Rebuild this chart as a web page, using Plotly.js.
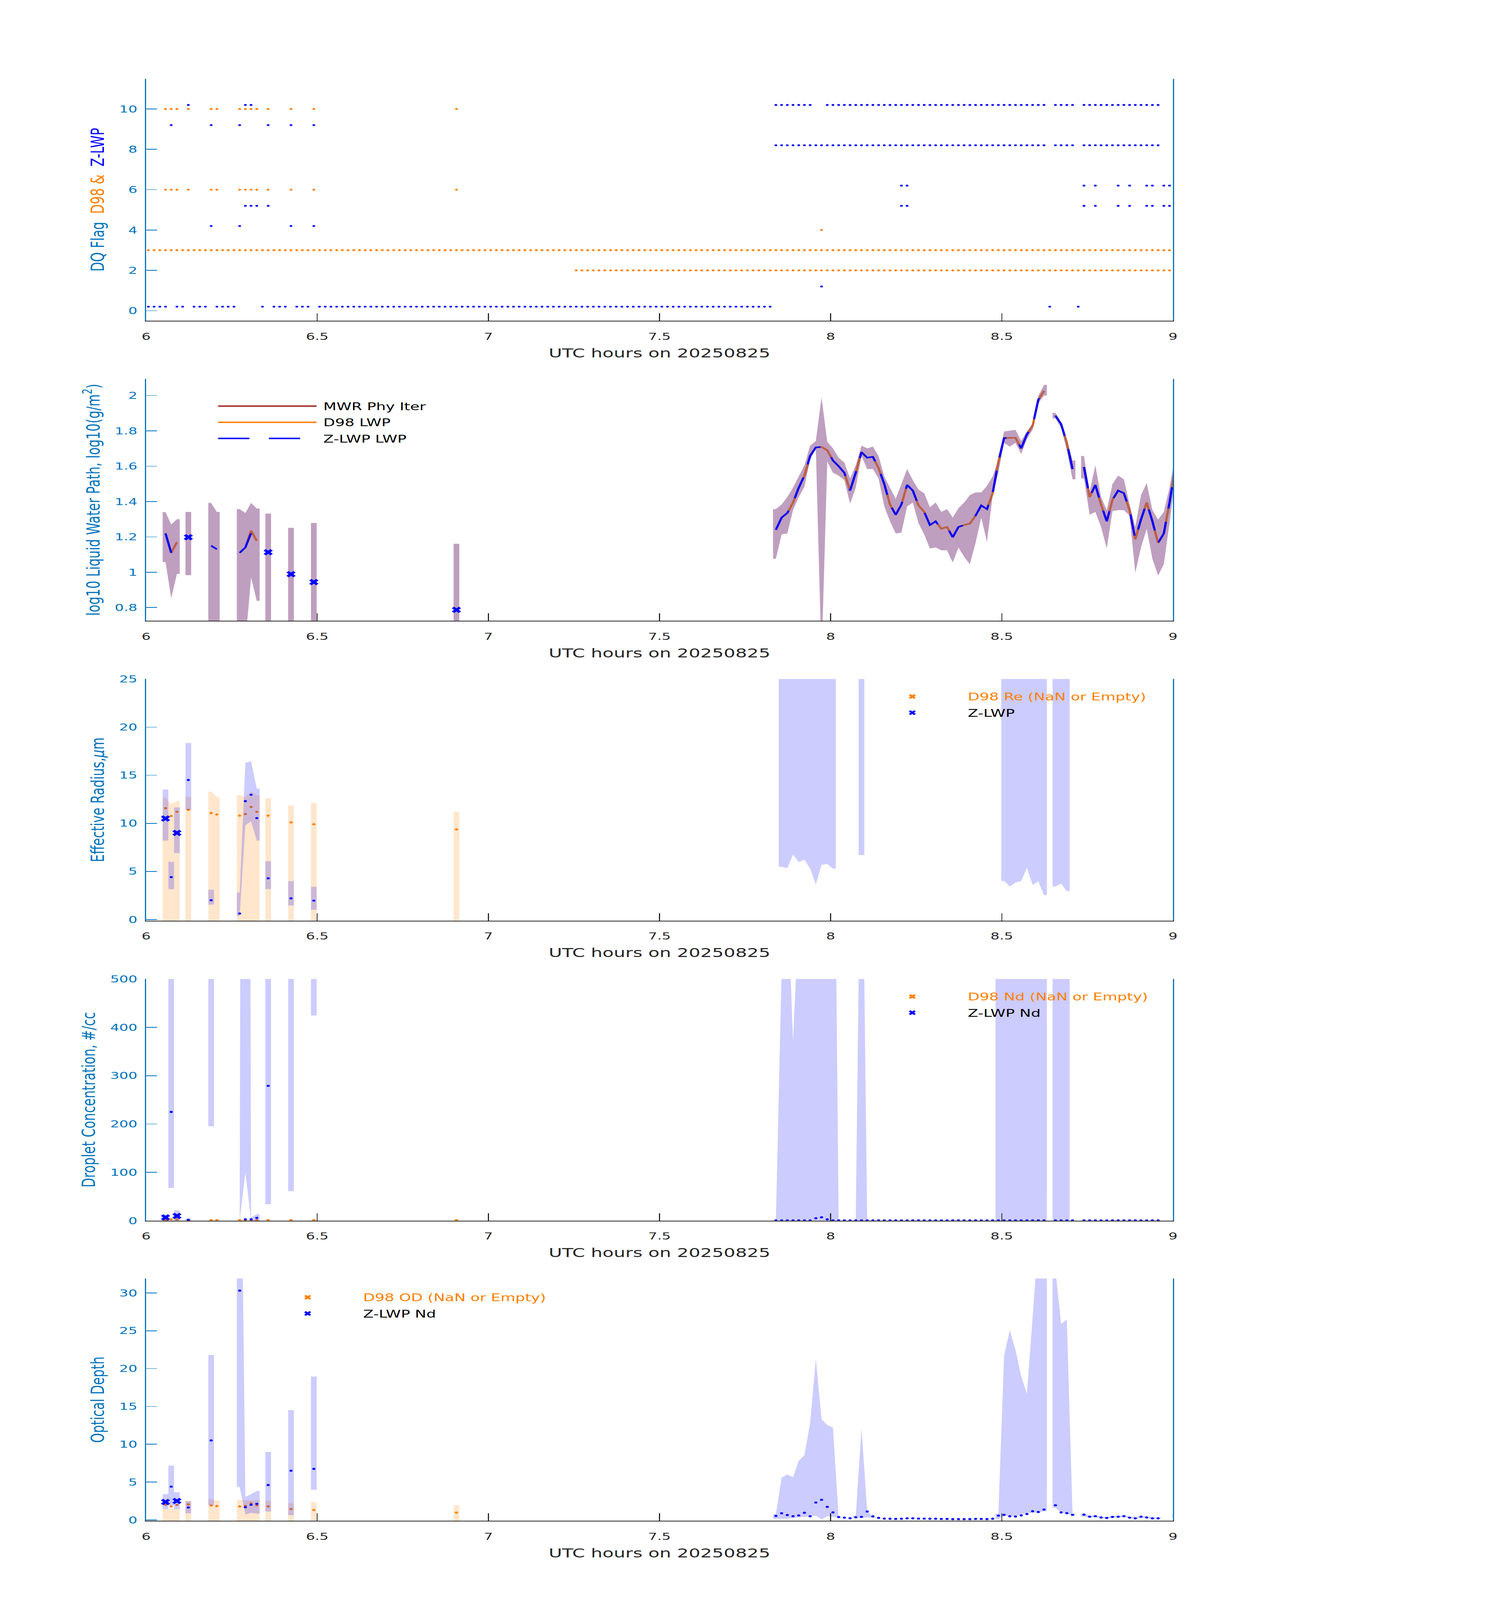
<!DOCTYPE html>
<html>
<head>
<meta charset="utf-8">
<script src="https://cdn.plot.ly/plotly-3.0.1.min.js"></script>
<style>html,body{margin:0;padding:0;background:#fff}</style>
</head>
<body>
<div id="chart" style="width:3825px;height:6000px"></div>
<script>
// ---- time base: one sample per minute after 06:00 UTC ----
const LATE_START = 110;      // first minute of the long block after 7.8 h
const SAMPLE_OFFSET = 0.4;   // samples sit a little into each minute
const HALF_STEP = 0.5;       // shaded boxes reach half a sample either side

// ---- DQ flags (minute ranges [from, to]) ----
const d98Flag10 = [[3, 5], [7, 7], [11, 12], [16, 19], [21, 21], [25, 25], [29, 29], [54, 54]];
const d98Flag6 = [[3, 5], [7, 7], [11, 12], [16, 19], [21, 21], [25, 25], [29, 29], [54, 54]];
const d98Flag4 = [[118, 118]];
const d98Flag3 = [[0, 180]];
const d98Flag2 = [[75, 180]];
const zFlag0 = [[0, 3], [5, 6], [8, 10], [12, 15], [20, 20], [22, 24], [26, 28], [30, 109], [158, 158], [163, 163]];
const zFlag1 = [[118, 118]];
const zFlag4 = [[11, 11], [16, 16], [25, 25], [29, 29]];
const zFlag5 = [[17, 19], [21, 21], [132, 133], [164, 164], [166, 166], [170, 170], [172, 172], [175, 176], [178, 180]];
const zFlag6 = [[132, 133], [164, 164], [166, 166], [170, 170], [172, 172], [175, 176], [178, 180]];
const zFlag8 = [[110, 157], [159, 162], [164, 177], [180, 180]];
const zFlag9 = [[4, 4], [11, 11], [16, 16], [21, 21], [25, 25], [29, 29]];
const zFlag10 = [[7, 7], [17, 18], [110, 116], [119, 157], [159, 162], [164, 177], [180, 180]];
const Z_FLAG_SHIFT = 0.2;

// ---- LWP, log10(g/m2) ----
const zLwpEarlyMin = [3, 4, 5, 11, 12, 13, 16, 17, 18, 19];
const zLwpEarly = [1.22, 1.11, null, 1.15, 1.13, null, 1.11, 1.14, 1.22, null];
const zLwpLate = [1.240, 1.309, 1.335, 1.394, 1.478, 1.547, 1.658, 1.706, 1.709, 1.690,
  1.632, 1.600, 1.563, 1.462, 1.563, 1.679, 1.648, 1.653, 1.589, 1.499,
  1.383, 1.325, 1.383, 1.494, 1.462, 1.378, 1.341, 1.267, 1.288, 1.246,
  1.256, 1.198, 1.256, 1.267, 1.275, 1.320, 1.378, 1.357, 1.447, 1.626,
  1.759, 1.759, 1.761, 1.701, 1.780, 1.828, 1.976, 2.026, null, 1.886,
  1.838, 1.732, 1.584, null, 1.595, 1.425, 1.494, 1.383, 1.288, 1.410,
  1.462, 1.447, 1.351, 1.187, 1.298, 1.394, 1.288, 1.166, 1.219, 1.394, 1.595];
const zLwpIsoMin = [7, 21, 25, 29, 54];
const zLwpIso = [1.198, 1.113, 0.989, 0.944, 0.787];
const d98LwpEarlyMin = [3, 4, 5, 6, 16, 17, 18, 19, 20];
const d98LwpEarly = [1.22, 1.11, 1.17, null, 1.11, 1.14, 1.235, 1.177, null];
const d98LwpLate = zLwpLate; // the orange track sits right under the blue one
const mwrBandEarlyMin = [3, 4, 5, 7, 11, 12, 16, 17, 18, 19, 21, 25, 29, 54];
const mwrBandEarlyUp = [1.34, 1.27, 1.30, 1.341, 1.392, 1.341, 1.357, 1.335, 1.392, 1.36, 1.332, 1.251, 1.279, 1.161];
const mwrBandEarlyLo = [1.057, 0.854, 0.99, 0.983, 0.6, 0.6, 0.6, 0.6, 0.97, 0.838, 0.6, 0.6, 0.6, 0.6];
const mwrBandLateUp = [1.357, 1.383, 1.425, 1.478, 1.542, 1.605, 1.716, 1.743, 1.99, 1.738,
  1.701, 1.648, 1.621, 1.531, 1.605, 1.716, 1.701, 1.711, 1.658, 1.542,
  1.478, 1.415, 1.499, 1.584, 1.521, 1.468, 1.447, 1.367, 1.394, 1.341,
  1.357, 1.309, 1.362, 1.394, 1.436, 1.452, 1.452, 1.489, 1.542, 1.637,
  1.796, 1.801, 1.806, 1.743, 1.796, 1.843, 1.997, 2.06, null, 1.902,
  1.849, 1.753, 1.632, null, 1.658, 1.457, 1.605, 1.425, 1.351, 1.499,
  1.547, 1.526, 1.383, 1.256, 1.436, 1.505, 1.351, 1.298, 1.341, 1.478, 1.664];
const mwrBandLateLo = [1.076, 1.214, 1.219, 1.351, 1.425, 1.484, 1.637, 1.701, 0.5, 1.626,
  1.563, 1.547, 1.521, 1.388, 1.478, 1.658, 1.584, 1.584, 1.531, 1.372,
  1.288, 1.219, 1.224, 1.372, 1.394, 1.277, 1.214, 1.134, 1.140, 1.124,
  1.124, 1.055, 1.140, 1.087, 1.045, 1.166, 1.309, 1.171, 1.436, 1.563,
  1.732, 1.711, 1.732, 1.669, 1.753, 1.806, 1.955, 2.00, null, 1.870,
  1.817, 1.690, 1.526, null, 1.531, 1.325, 1.341, 1.256, 1.135, 1.346,
  1.351, 1.351, 1.320, 0.997, 1.140, 1.245, 1.076, 0.981, 1.045, 1.277, 1.531];

// ---- shared sample minutes for the retrieval panels ----
const d98RetMin = [3, 4, 5, 7, 11, 12, 16, 17, 18, 19, 21, 25, 29, 54];
const zIsoMin = [3, 5];
const zBandEarlyMin = [3, null, 4, null, 5, 7, 11, 16, 17, 18, 19, 21, 25, 29];

// ---- effective radius, um ----
const d98Re = [11.57, 10.77, 11.2, 11.4, 11.06, 10.92, 10.8, 10.96, 11.7, 11.2, 10.8, 10.1, 9.9, 9.37];
const d98ReUp = [12.7, 12.0, 12.3, 12.73, 13.3, 12.73, 12.93, 12.73, 13.3, 12.93, 12.63, 11.86, 12.13, 11.2];
const d98ReLo = [-1, -1, -1, -1, -1, -1, -1, -1, -1, -1, -1, -1, -1, -1];
const zReMin = [4, 7, 11, 16, 17, 18, 19, 21, 25, 29];
const zRe = [4.4, 14.5, 2.0, 0.62, 12.3, 12.97, 10.54, 4.28, 2.2, 1.96];
const zReIso = [10.5, 9.0];
const zReBandEarlyUp = [13.5, null, 6.0, null, 11.65, 18.35, 3.1, 2.8, 16.3, 16.45, 13.6, 6.07, 4.0, 3.4];
const zReBandEarlyLo = [8.2, null, 3.15, null, 6.9, 11.4, 1.55, 0.37, 9.8, 10.2, 8.2, 3.15, 1.46, 1.0];
const zReBandLateMin = [111, 112, 113, 114, 115, 116, 117, 118, 119, 120, 125,
  150, 151, 152, 153, 154, 155, 156, 157, 159, 160, 161];
const zReBandLateUp = [60, 60, 60, 60, 60, 60, 60, 60, 60, 60, 60,
  60, 60, 60, 60, 60, 60, 60, 60, 60, 60, 60];
const zReBandLateLo = [5.48, 5.33, 6.75, 5.97, 6.22, 5.29, 3.64, 5.68, 5.77, 5.29, 6.7,
  4.02, 3.44, 3.83, 3.99, 5.38, 3.60, 3.97, 2.53, 3.44, 3.73, 2.95];

// ---- droplet concentration, #/cc ----
const d98Nd = [1.2, 2.7, 2.7, 1.2, 1.2, 1.2, 1.2, 1.2, 1.2, 1.2, 1.2, 1.2, 1.2, 1.2];
const d98NdUp = [2.7, 2.7, 2.7, 2.7, 2.7, 2.7, 2.7, 2.7, 2.7, 2.7, 2.7, 2.7, 2.7, 2.7];
const d98NdLo = [-5, -5, -5, -5, -5, -5, -5, -5, -5, -5, -5, -5, -5, -5];
const zNdEarlyMin = [4, 7, 17, 18, 19, 21];
const zNdEarly = [225, 1.9, 2.7, 2.7, 5.8, 279];
const zNdLate = [0.5, 0.5, 0.5, 0.5, 0.5, 0.5, 0.5, 5.0, 7.0, 2.7,
  0.5, 0.5, 0.5, 0.5, 0.5, 0.5, 0.5, 0.5, 0.5, 0.5,
  0.5, 0.5, 0.5, 0.5, 0.5, 0.5, 0.5, 0.5, 0.5, 0.5,
  0.5, 0.5, 0.5, 0.5, 0.5, 0.5, 0.5, 0.5, 0.5, 0.5,
  0.5, 0.5, 0.5, 0.5, 0.5, 0.5, 0.5, 0.5, null, 0.5,
  0.5, 0.5, 0.5, null, 0.5, 0.5, 0.5, 0.5, 0.5, 0.5,
  0.5, 0.5, 0.5, 0.5, 0.5, 0.5, 0.5, 0.5, null, null, 0.5];
const zNdIso = [6.6, 9.7];
const zNdBandEarlyUp = [12.4, null, 3000, null, 21.3, 3.9, 3000, 0, 5000, 6.6, 13.5, 3000, 3000, 3000];
const zNdBandEarlyLo = [0, null, 67.7, null, 0, 0, 195.4, 0, 99.5, 0, 0, 34, 61, 424.5];
const zNdBandLateMin = [110, 111, 112, 113, 114, 115, 116, 117, 118, 119, 120, 121,
  124, 125, 126, 149, 150, 151, 152, 153, 154, 155, 156, 157, 159, 160, 161];
const zNdBandLateUp = [0, 520, 693, 371, 629, 2000, 2000, 2000, 2000, 2000, 1250, 0,
  0, 1000, 0, 3000, 3000, 3000, 3000, 3000, 3000, 3000, 3000, 3000, 3000, 3000, 3000];
const zNdBandLateLo = [0, 0, 0, 0, 0, 0, 0, 0, 0, 0, 0, 0,
  0, 0, 0, 0, 0, 0, 0, 0, 0, 0, 0, 0, 0, 0, 0];

// ---- optical depth ----
const d98Od = [2.0, 1.78, 1.98, 2.05, 1.9, 1.83, 1.78, 1.85, 2.18, 1.93, 1.78, 1.43, 1.31, 0.96];
const d98OdUp = [1.45, 1.45, 1.45, 2.55, 2.75, 2.55, 2.62, 2.6, 2.6, 2.6, 2.55, 2.23, 2.35, 1.93];
const d98OdLo = [-0.5, -0.5, -0.5, -0.5, -0.5, -0.5, -0.5, -0.5, -0.5, -0.5, -0.5, -0.5, -0.5, -0.5];
const zOdEarlyMin = [4, 7, 11, 16, 17, 18, 19, 21, 25, 29];
const zOdEarly = [4.40, 1.63, 10.5, 30.3, 1.68, 2.0, 2.13, 4.6, 6.5, 6.75];
const zOdLate = [0.52, 0.87, 0.64, 0.49, 0.59, 0.94, 0.47, 2.30, 2.65, 1.73,
  0.99, 0.37, 0.30, 0.22, 0.35, 0.40, 1.11, 0.47, 0.27, 0.17,
  0.15, 0.12, 0.15, 0.20, 0.20, 0.17, 0.17, 0.15, 0.15, 0.12,
  0.12, 0.10, 0.10, 0.10, 0.10, 0.12, 0.12, 0.10, 0.15, 0.57,
  0.67, 0.47, 0.45, 0.59, 0.77, 1.14, 1.04, 1.36, null, 1.93,
  0.99, 0.89, 0.67, null, 0.69, 0.42, 0.49, 0.32, 0.25, 0.40,
  0.42, 0.49, 0.30, 0.20, 0.42, 0.32, 0.20, 0.20, null, null, 0.42];
const zOdIso = [2.37, 2.5];
const zOdBandEarlyUp = [3.41, null, 7.17, null, 3.66, 2.47, 21.8, 70, 3.04, 3.41, 3.83, 8.98, 14.5, 18.95];
const zOdBandEarlyLo = [1.43, null, 1.9, null, 1.43, 0.87, 1.93, 4.35, 0.69, 0.94, 0.82, 1.11, 0.62, 3.98];
const zOdBandLateMin = [110, 111, 112, 113, 114, 115, 116, 117, 118, 119, 120, 121,
  124, 125, 126, 127,
  149, 150, 151, 152, 153, 154, 155, 156, 157,
  159, 160, 161, 162,
  164, 165, 166, 167, 168, 169, 170, 171, 172, 173, 174, 175, 176, 177,
  180];
const zOdBandLateUp = [0.77, 5.57, 6.0, 5.64, 7.79, 8.56, 12.8, 21.3, 13.3, 12.56, 12.19, 0.4,
  0.57, 12.07, 1.31, 0.35,
  0.82, 21.7, 25.1, 22.46, 19.0, 16.65, 26.8, 37, 45,
  33, 25.9, 26.5, 0.82,
  0.87, 0.55, 0.6, 0.45, 0.38, 0.52, 0.55, 0.6, 0.42, 0.32, 0.55, 0.45, 0.32, 0.32,
  0.7];
const zOdBandLateLo = [0.15, 0.15, 0.15, 0.25, 0.3, 0.4, 0.45, 0.57, 0.07, 0.49, 0.4, 0.3,
  0.3, 0.3, 0.3, 0.25,
  0.1, 0.57, 0.47, 0.52, 0.69, 0.87, 0.94, 0.99, 1.14,
  1.6, 0.94, 0.82, 0.57,
  0.45, 0.3, 0.35, 0.22, 0.15, 0.3, 0.3, 0.37, 0.2, 0.12, 0.3, 0.22, 0.12, 0.12,
  0.3];

// ---- colours ----
const AX_BLUE = '#0072BD';
const AX_DARK = '#262626';
const ORANGE = '#FF8000';
const BLUE = '#0000FF';
const MWR_RED = '#A32A2A';
const MWR_BAND = 'rgba(128,64,128,0.5)';
const D98_BAND = 'rgba(255,128,0,0.2)';
const Z_BAND = 'rgba(0,0,255,0.2)';

function toHour(m) {
    return 6 + (m + SAMPLE_OFFSET) / 60;
}

function lateMinutes(vals) {
    return vals.map((_, i) => LATE_START + i);
}

function expandRanges(ranges) {
    const out = [];
    ranges.forEach(([a, b]) => {
        for (let m = a; m <= b; m++) out.push(m);
    });
    return out;
}

// closed polygon(s) for an uncertainty band; runs of consecutive minutes are joined,
// each run gets a flat half-sample end on both sides
function bandPath(mins, ups, los) {
    const x = [], y = [];
    let run = [];
    const dx = HALF_STEP / 60;
    const flush = () => {
        if (!run.length) return;
        const first = run[0], last = run[run.length - 1];
        x.push(toHour(first.m) - dx); y.push(first.u);
        run.forEach(p => { x.push(toHour(p.m)); y.push(p.u); });
        x.push(toHour(last.m) + dx); y.push(last.u);
        x.push(toHour(last.m) + dx); y.push(last.l);
        for (let i = run.length - 1; i >= 0; i--) { x.push(toHour(run[i].m)); y.push(run[i].l); }
        x.push(toHour(first.m) - dx); y.push(first.l);
        x.push(null); y.push(null);
        run = [];
    };
    mins.forEach((m, i) => {
        if (m === null || ups[i] === null || los[i] === null) { flush(); return; }
        if (run.length && m !== run[run.length - 1].m + 1) flush();
        run.push({ m: m, u: ups[i], l: los[i] });
    });
    flush();
    return { x, y };
}

function bandTrace(mins, ups, los, color, xa, ya) {
    const p = bandPath(mins, ups, los);
    return {
        type: 'scatter', mode: 'none', fill: 'toself', fillcolor: color,
        x: p.x, y: p.y, xaxis: xa, yaxis: ya, hoverinfo: 'skip', showlegend: false
    };
}

function dotTrace(mins, vals, color, size, xa, ya) {
    return {
        type: 'scatter', mode: 'markers', x: mins.map(toHour), y: vals,
        marker: { color: color, size: size, line: { width: 0 } },
        xaxis: xa, yaxis: ya, hoverinfo: 'skip', showlegend: false
    };
}

function crossTrace(mins, vals, color, xa, ya, name, legendId) {
    return {
        type: 'scatter', mode: 'markers', x: mins.map(toHour), y: vals,
        marker: { color: color, size: 21, symbol: 'x', line: { width: 0 } },
        xaxis: xa, yaxis: ya, hoverinfo: 'skip',
        name: name, showlegend: !!legendId, legend: legendId || 'legend', legendgroup: name
    };
}

function flagTrace(levels, rangesList, shift, color) {
    const x = [], y = [];
    levels.forEach((lev, i) => {
        expandRanges(rangesList[i]).forEach(m => { x.push(toHour(m)); y.push(lev + shift); });
    });
    return {
        type: 'scatter', mode: 'markers', x: x, y: y,
        marker: { color: color, size: 7, line: { width: 0 } },
        xaxis: 'x', yaxis: 'y', hoverinfo: 'skip', showlegend: false
    };
}

const NB = '\u00A0';
const data = [];

// panel 1: DQ flags
data.push(flagTrace([10, 6, 4, 3, 2], [d98Flag10, d98Flag6, d98Flag4, d98Flag3, d98Flag2], 0, ORANGE));
data.push(flagTrace([0, 1, 4, 5, 6, 8, 9, 10],
    [zFlag0, zFlag1, zFlag4, zFlag5, zFlag6, zFlag8, zFlag9, zFlag10], Z_FLAG_SHIFT, BLUE));

// panel 2: LWP
const d98LwpMin = d98LwpEarlyMin.concat(lateMinutes(d98LwpLate));
const d98LwpVal = d98LwpEarly.concat(d98LwpLate);
const zLwpMin = zLwpEarlyMin.concat(lateMinutes(zLwpLate));
const zLwpVal = zLwpEarly.concat(zLwpLate);
data.push({
    type: 'scatter', mode: 'lines', name: NB + 'MWR Phy Iter', legend: 'legend', legendgroup: 'mwr',
    x: d98LwpMin.map(toHour), y: d98LwpVal, connectgaps: false,
    line: { color: MWR_RED, width: 5.5 }, xaxis: 'x2', yaxis: 'y2', hoverinfo: 'skip'
});
data.push({
    type: 'scatter', mode: 'lines', name: NB + 'D98 LWP', legend: 'legend', legendgroup: 'd98',
    x: d98LwpMin.map(toHour), y: d98LwpVal, connectgaps: false,
    line: { color: ORANGE, width: 5.5 }, xaxis: 'x2', yaxis: 'y2', hoverinfo: 'skip'
});
data.push(bandTrace(
    mwrBandEarlyMin.concat(lateMinutes(mwrBandLateUp)),
    mwrBandEarlyUp.concat(mwrBandLateUp),
    mwrBandEarlyLo.concat(mwrBandLateLo),
    MWR_BAND, 'x2', 'y2'));
data.push({
    type: 'scatter', mode: 'lines', name: NB + 'Z-LWP LWP', legend: 'legend', legendgroup: 'zlwp',
    x: zLwpMin.map(toHour), y: zLwpVal, connectgaps: false,
    line: { color: BLUE, width: 5.5, dash: '80px,50px' }, xaxis: 'x2', yaxis: 'y2', hoverinfo: 'skip'
});
data.push(crossTrace(zLwpIsoMin, zLwpIso, BLUE, 'x2', 'y2', 'zlwp-iso', null));

// panels 3-5: retrievals
function retrievalPanel(n, d98Val, d98Up, d98Lo, zMin, zVal, zIso,
                        zBandMin, zBandUp, zBandLo, d98Name, zName) {
    const xa = 'x' + n, ya = 'y' + n, lg = 'legend' + (n - 1);
    data.push(bandTrace(d98RetMin, d98Up, d98Lo, D98_BAND, xa, ya));
    data.push(dotTrace(d98RetMin, d98Val, ORANGE, 8, xa, ya));
    data.push(bandTrace(zBandMin, zBandUp, zBandLo, Z_BAND, xa, ya));
    data.push(dotTrace(zMin, zVal, BLUE, 8, xa, ya));
    data.push({
        type: 'scatter', mode: 'markers', x: [null], y: [null],
        marker: { color: ORANGE, size: 21, symbol: 'x' },
        xaxis: xa, yaxis: ya, hoverinfo: 'skip',
        name: '<span style="color:' + ORANGE + '">' + d98Name + '</span>',
        legend: lg, legendgroup: 'd98' + n
    });
    data.push(crossTrace(zIsoMin, zIso, BLUE, xa, ya, zName, lg));
}

retrievalPanel(3, d98Re, d98ReUp, d98ReLo, zReMin, zRe, zReIso,
    zBandEarlyMin.concat([null], zReBandLateMin),
    zReBandEarlyUp.concat([null], zReBandLateUp),
    zReBandEarlyLo.concat([null], zReBandLateLo),
    'D98 Re (NaN or Empty)', 'Z-LWP');

retrievalPanel(4, d98Nd, d98NdUp, d98NdLo,
    zNdEarlyMin.concat(lateMinutes(zNdLate)), zNdEarly.concat(zNdLate), zNdIso,
    zBandEarlyMin.concat([null], zNdBandLateMin),
    zNdBandEarlyUp.concat([null], zNdBandLateUp),
    zNdBandEarlyLo.concat([null], zNdBandLateLo),
    'D98 Nd (NaN or Empty)', 'Z-LWP Nd');

retrievalPanel(5, d98Od, d98OdUp, d98OdLo,
    zOdEarlyMin.concat(lateMinutes(zOdLate)), zOdEarly.concat(zOdLate), zOdIso,
    zBandEarlyMin.concat([null], zOdBandLateMin),
    zOdBandEarlyUp.concat([null], zOdBandLateUp),
    zOdBandEarlyLo.concat([null], zOdBandLateLo),
    'D98 OD (NaN or Empty)', 'Z-LWP Nd');

// ---- layout ----
const FONT = 'DejaVu Sans, Verdana, sans-serif';
const X_DOMAIN = [0.0978, 0.7851];
const Y_DOMAINS = [[0.7995, 0.9508], [0.6120, 0.7633], [0.4246, 0.5756], [0.2371, 0.3881], [0.0495, 0.2009]];

function xAxis(n) {
    return {
        domain: X_DOMAIN, anchor: 'y' + n, range: [6, 9], tick0: 6, dtick: 0.5,
        ticks: 'inside', ticklen: 28, tickwidth: 2.5, tickcolor: AX_DARK,
        showline: true, linecolor: AX_DARK, linewidth: 3,
        showgrid: false, zeroline: false, ticklabelstandoff: 24,
        tickfont: { family: FONT, size: 36.5, color: AX_DARK },
        title: { text: 'UTC hours on 20250825', font: { family: FONT, size: 47, color: AX_DARK }, standoff: 26 }
    };
}

function yAxis(n, range, dtick, title) {
    return {
        domain: Y_DOMAINS[n - 1], anchor: 'x' + n, range: range, tick0: 0, dtick: dtick,
        ticks: 'inside', ticklen: 28, tickwidth: 2.5, tickcolor: AX_BLUE,
        showline: true, mirror: true, linecolor: AX_BLUE, linewidth: 3,
        showgrid: false, zeroline: false, ticklabelstandoff: 12,
        tickfont: { family: FONT, size: 36.5, color: AX_BLUE },
        title: { text: title, font: { family: FONT, size: 47, color: AX_BLUE }, standoff: 24 }
    };
}

function legendBox(x, y, itemwidth) {
    return {
        x: x, y: y, xanchor: 'left', yanchor: 'top', bgcolor: 'rgba(0,0,0,0)',
        borderwidth: 0, itemwidth: itemwidth, tracegroupgap: 7, traceorder: 'grouped',
        font: { family: FONT, size: 39, color: '#000000' }
    };
}

const layout = {
    width: 3825, height: 6000,
    margin: { l: 0, r: 0, t: 0, b: 0 },
    paper_bgcolor: '#ffffff', plot_bgcolor: 'rgba(0,0,0,0)',
    font: { family: FONT, color: AX_DARK },
    xaxis: xAxis(1), xaxis2: xAxis(2), xaxis3: xAxis(3), xaxis4: xAxis(4), xaxis5: xAxis(5),
    yaxis: yAxis(1, [-0.5, 11.5], 2,
        'DQ Flag' + NB + ' <span style="color:' + ORANGE + '">D98 &amp;</span>' + NB +
        ' <span style="color:' + BLUE + '">Z-LWP</span>'),
    yaxis2: yAxis(2, [0.725, 2.095], 0.2, 'log10 Liquid Water Path, log10(g/m<sup>2</sup>)'),
    yaxis3: yAxis(3, [-0.12, 25], 5, 'Effective Radius,<i>\u03BC</i>m'),
    yaxis4: yAxis(4, [0, 500], 100, 'Droplet Concentration, #/cc'),
    yaxis5: yAxis(5, [-0.12, 31.9], 5, 'Optical Depth'),
    legend: legendBox(0.1447, 0.7515, 252),
    legend2: legendBox(0.5735, 0.5700, 274),
    legend3: legendBox(0.5735, 0.3825, 274),
    legend4: legendBox(0.1688, 0.1945, 274),
    showlegend: true
};

// the window may be shorter than the 3825x6000 figure: shrink the drawing to fit it
const chartEl = document.getElementById('chart');
const fitX = Math.min(1, (window.innerWidth || 3825) / 3825);
const fitY = Math.min(1, (window.innerHeight || 6000) / 6000);
if (fitX < 1 || fitY < 1) {
    chartEl.style.transformOrigin = '0 0';
    chartEl.style.transform = 'scale(' + fitX + ',' + fitY + ')';
    document.body.style.overflow = 'hidden';
}

Plotly.newPlot('chart', data, layout, { displayModeBar: false, staticPlot: true });
</script>
</body>
</html>
